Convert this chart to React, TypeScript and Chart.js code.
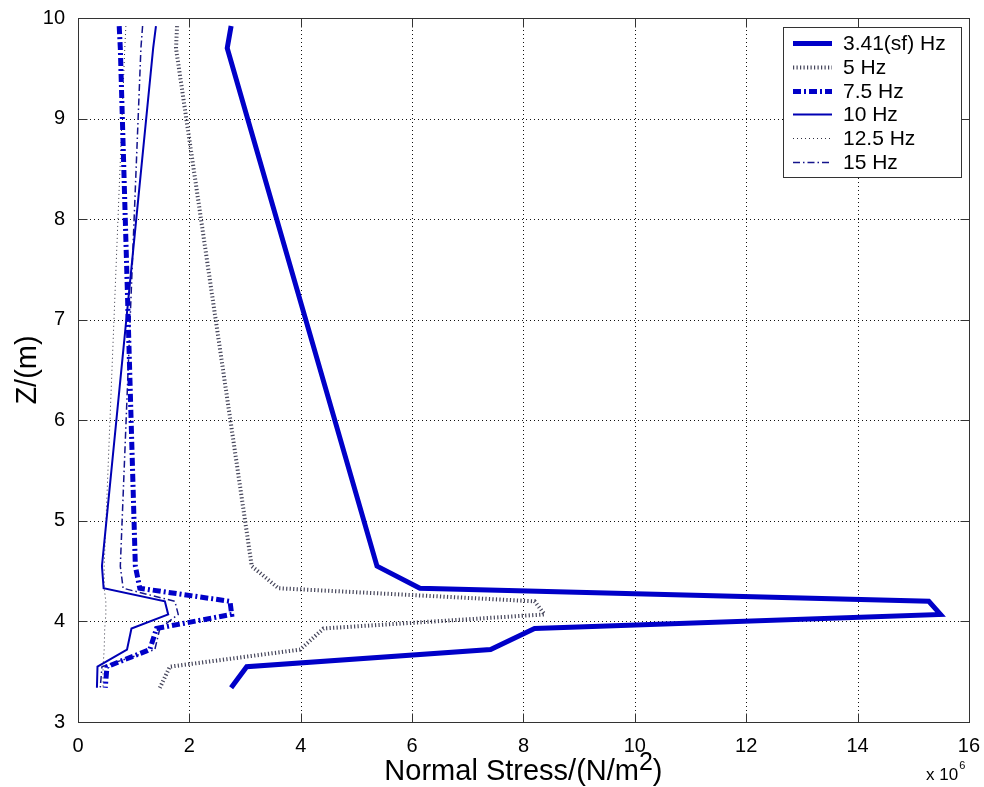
import React, { useEffect, useRef } from "react";
import { Chart, registerables } from "chart.js";

Chart.register(...registerables);

// Depth of each sample point, Z (m)
const depths = [9.92, 9.7, 4.55, 4.33, 4.2, 4.07, 3.93, 3.72, 3.55, 3.34];

// Normal stress (N/m^2) at each depth, one array per excitation frequency
const stress341 = [2.75e6, 2.68e6, 5.37e6, 6.14e6, 15.28e6, 15.49e6, 8.2e6, 7.41e6, 3.03e6, 2.75e6];
const stress5 = [1.78e6, 1.76e6, 3.12e6, 3.6e6, 8.2e6, 8.38e6, 4.41e6, 3.99e6, 1.65e6, 1.47e6];
const stress75 = [0.74e6, 0.76e6, 1.03e6, 1.11e6, 2.73e6, 2.76e6, 1.41e6, 1.29e6, 0.52e6, 0.49e6];
const stress10 = [1.4e6, 1.35e6, 0.43e6, 0.46e6, 1.56e6, 1.62e6, 0.96e6, 0.88e6, 0.35e6, 0.34e6];
const stress125 = [0.86e6, 0.84e6, 0.47e6, 0.47e6, 0.5e6, 0.5e6, 0.48e6, 0.47e6, 0.45e6, 0.45e6];
const stress15 = [1.16e6, 1.13e6, 0.76e6, 0.81e6, 1.74e6, 1.8e6, 1.47e6, 1.38e6, 0.43e6, 0.4e6];

const seriesLabels = ["3.41(sf) Hz", "5 Hz", "7.5 Hz", "10 Hz", "12.5 Hz", "15 Hz"];
const seriesValues = [stress341, stress5, stress75, stress10, stress125, stress15];

// Axis ticks
const xTicks = [0, 2e6, 4e6, 6e6, 8e6, 10e6, 12e6, 14e6, 16e6];
const yTicks = [3, 4, 5, 6, 7, 8, 9, 10];
const xExponent = 6;

const FONT = "'Liberation Sans', Arial, Helvetica, sans-serif";

type LineStyle = { color: string; width: number; dash: number[] };
const styles: LineStyle[] = [
  { color: "rgb(0,0,200)", width: 5, dash: [] },
  { color: "#45455a", width: 4, dash: [1.2, 2.3] },
  { color: "rgb(0,0,200)", width: 5, dash: [8, 3, 2, 3] },
  { color: "rgb(0,0,180)", width: 2, dash: [] },
  { color: "#303040", width: 1, dash: [1, 3] },
  { color: "rgb(20,20,140)", width: 1.5, dash: [7, 3, 1.5, 3] },
];

const framePlugin = {
  id: "matFrame",
  beforeDatasetsDraw(chart: any) {
    const { ctx, chartArea: a, scales } = chart;
    const x = scales.x;
    const y = scales.y;
    ctx.save();
    ctx.strokeStyle = "#111";
    ctx.lineWidth = 1;
    ctx.setLineDash([1, 3]);
    for (const v of xTicks) {
      const px = Math.round(x.getPixelForValue(v)) + 0.5;
      if (px <= a.left + 1 || px >= a.right - 1) continue;
      ctx.beginPath();
      ctx.moveTo(px, a.top);
      ctx.lineTo(px, a.bottom);
      ctx.stroke();
    }
    for (const v of yTicks) {
      const py = Math.round(y.getPixelForValue(v)) + 0.5;
      if (py <= a.top + 1 || py >= a.bottom - 1) continue;
      ctx.beginPath();
      ctx.moveTo(a.left, py);
      ctx.lineTo(a.right, py);
      ctx.stroke();
    }
    ctx.restore();
  },
  afterDatasetsDraw(chart: any) {
    const { ctx, chartArea: a, scales } = chart;
    const x = scales.x;
    const y = scales.y;
    const L = Math.round(a.left) + 0.5;
    const R = Math.round(a.right) + 0.5;
    const T = Math.round(a.top) + 0.5;
    const B = Math.round(a.bottom) + 0.5;
    ctx.save();
    ctx.setLineDash([]);
    ctx.strokeStyle = "#333";
    ctx.lineWidth = 1;
    ctx.strokeRect(L, T, R - L, B - T);
    const tl = 9;
    ctx.beginPath();
    for (const v of xTicks) {
      const px = Math.round(x.getPixelForValue(v)) + 0.5;
      ctx.moveTo(px, B);
      ctx.lineTo(px, B - tl);
      ctx.moveTo(px, T);
      ctx.lineTo(px, T + tl);
    }
    for (const v of yTicks) {
      const py = Math.round(y.getPixelForValue(v)) + 0.5;
      ctx.moveTo(L, py);
      ctx.lineTo(L + tl, py);
      ctx.moveTo(R, py);
      ctx.lineTo(R - tl, py);
    }
    ctx.stroke();

    // Legend
    const bx = 783.5;
    const by = 27.5;
    const bw = 178;
    const bh = 150;
    ctx.fillStyle = "#fff";
    ctx.fillRect(bx, by, bw, bh);
    ctx.strokeStyle = "#333";
    ctx.strokeRect(bx, by, bw, bh);
    ctx.font = `21px ${FONT}`;
    ctx.textBaseline = "middle";
    ctx.textAlign = "left";
    seriesLabels.forEach((label, i) => {
      const ly = Math.round(43 + i * 23.8) + 0.5;
      const s = styles[i];
      ctx.strokeStyle = s.color;
      ctx.lineWidth = s.width;
      ctx.setLineDash(s.dash);
      ctx.lineCap = "butt";
      ctx.beginPath();
      ctx.moveTo(793, ly);
      ctx.lineTo(832, ly);
      ctx.stroke();
      ctx.setLineDash([]);
      ctx.fillStyle = "#000";
      ctx.fillText(label, 843, ly + 1);
    });
    ctx.restore();
  },
  afterDraw(chart: any) {
    const { ctx, chartArea: a } = chart;
    ctx.save();
    ctx.fillStyle = "#000";

    // X axis title with superscript
    const part1 = "Normal Stress/(N/m";
    const sup = "2";
    const part3 = ")";
    const big = `29px ${FONT}`;
    const small = `25px ${FONT}`;
    ctx.font = big;
    const w1 = ctx.measureText(part1).width;
    const w3 = ctx.measureText(part3).width;
    ctx.font = small;
    const w2 = ctx.measureText(sup).width;
    const cx = (a.left + a.right) / 2;
    let sx = cx - (w1 + w2 + w3) / 2;
    const base = 780;
    ctx.textBaseline = "alphabetic";
    ctx.textAlign = "left";
    ctx.font = big;
    ctx.fillText(part1, sx, base);
    sx += w1;
    ctx.font = small;
    ctx.fillText(sup, sx, base - 10);
    sx += w2;
    ctx.font = big;
    ctx.fillText(part3, sx, base);

    // Exponent marker
    ctx.font = `17px ${FONT}`;
    const ex = "x 10";
    const exW = ctx.measureText(ex).width;
    ctx.fillText(ex, 926, 780);
    ctx.font = `11px ${FONT}`;
    ctx.fillText(String(xExponent), 926 + exW + 1, 769);

    // Y axis title
    ctx.font = big;
    ctx.translate(28, (a.top + a.bottom) / 2);
    ctx.rotate(-Math.PI / 2);
    ctx.textAlign = "center";
    ctx.textBaseline = "middle";
    ctx.fillText("Z/(m)", 0, 0);
    ctx.restore();
  },
};

export default function App() {
  const canvasRef = useRef<HTMLCanvasElement | null>(null);

  useEffect(() => {
    const canvas = canvasRef.current;
    if (!canvas) return;
    const datasets = seriesLabels.map((label, i) => ({
      label,
      data: depths.map((z, k) => ({ x: seriesValues[i][k], y: z })),
      borderColor: styles[i].color,
      backgroundColor: styles[i].color,
      borderWidth: styles[i].width,
      borderDash: styles[i].dash,
      borderCapStyle: "butt" as const,
      borderJoinStyle: "miter" as const,
      pointRadius: 0,
      pointHoverRadius: 0,
      showLine: true,
      tension: 0,
      fill: false,
    }));

    const chart = new Chart(canvas, {
      type: "scatter",
      data: { datasets },
      options: {
        animation: false,
        responsive: false,
        maintainAspectRatio: false,
        devicePixelRatio: 1,
        layout: { padding: { top: 18, right: 13, left: 0, bottom: 0 } },
        plugins: {
          legend: { display: false },
          tooltip: { enabled: false },
          title: { display: false },
        },
        scales: {
          x: {
            type: "linear",
            min: 0,
            max: 16e6,
            afterBuildTicks: (scale: any) => {
              scale.ticks = xTicks.map((v) => ({ value: v }));
            },
            afterFit: (scale: any) => {
              scale.height = 65;
            },
            grid: { display: false },
            border: { display: false },
            ticks: {
              color: "#000",
              font: { family: FONT, size: 20 },
              padding: 4,
              maxRotation: 0,
              callback: (v: any) => String(Number(v) / Math.pow(10, xExponent)),
            },
          },
          y: {
            type: "linear",
            min: 3,
            max: 10,
            afterBuildTicks: (scale: any) => {
              scale.ticks = yTicks.map((v) => ({ value: v }));
            },
            afterFit: (scale: any) => {
              scale.width = 78;
            },
            grid: { display: false },
            border: { display: false },
            ticks: {
              color: "#000",
              font: { family: FONT, size: 20 },
              padding: 5,
              callback: (v: any) => String(v),
            },
          },
        },
      },
      plugins: [framePlugin],
    });
    return () => chart.destroy();
  }, []);

  return (
    <div style={{ position: "fixed", left: 0, top: 0, width: 984, height: 787, background: "#fff" }}>
      <canvas ref={canvasRef} width={984} height={787} style={{ display: "block", width: 984, height: 787 }} />
    </div>
  );
}
